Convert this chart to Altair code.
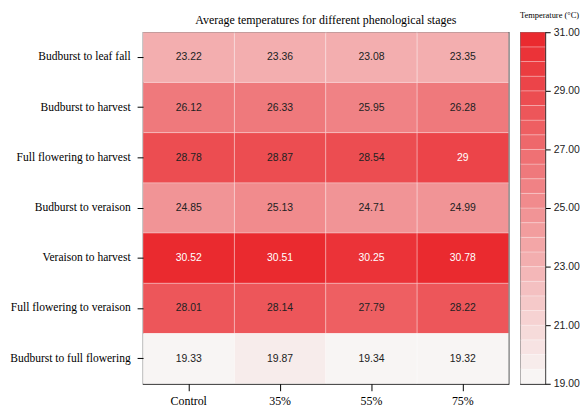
import altair as alt
import pandas as pd
import numpy as np

stages = [
    "Budburst to leaf fall",
    "Budburst to harvest",
    "Full flowering to harvest",
    "Budburst to veraison",
    "Veraison to harvest",
    "Full flowering to veraison",
    "Budburst to full flowering",
]
treatments = ["Control", "35%", "55%", "75%"]
values = [
    [23.22, 23.36, 23.08, 23.35],
    [26.12, 26.33, 25.95, 26.28],
    [28.78, 28.87, 28.54, 29],
    [24.85, 25.13, 24.71, 24.99],
    [30.52, 30.51, 30.25, 30.78],
    [28.01, 28.14, 27.79, 28.22],
    [19.33, 19.87, 19.34, 19.32],
]
scale_min, scale_max, step = 19.0, 31.0, 0.5
legend_ticks = [19, 21, 23, 25, 27, 29, 31]

# colours (style)
low = np.array([0xF8, 0xF5, 0xF4])
high = np.array([0xEA, 0x2A, 0x2F])
nbins = int((scale_max - scale_min) / step)
colors = ["#%02x%02x%02x" % tuple(int(round(c)) for c in low + (high - low) * i / (nbins - 1))
          for i in range(nbins)]

rows = []
for s, vals in zip(stages, values):
    for t, v in zip(treatments, vals):
        rows.append({"stage": s, "treatment": t, "value": v, "label": f"{v:g}"})
df = pd.DataFrame(rows)

levels = [scale_min + step * i for i in range(nbins)]
bar = pd.DataFrame({"lo": levels, "hi": [l + step for l in levels], "mid": [l + step / 2 for l in levels]})

color_scale = alt.Scale(type="quantize", domain=[scale_min, scale_max], range=colors, nice=False)

serif = "Liberation Serif"
sans = "Liberation Sans"

base = alt.Chart(df)
cells = base.mark_rect(stroke="white", strokeOpacity=0.3, strokeWidth=1).encode(
    x=alt.X("treatment:N", sort=treatments, title=None,
            axis=alt.Axis(labelAngle=0, labelFont=serif, labelFontSize=12, labelColor="black",
                          tickColor="black", tickSize=7, domain=False, labelPadding=5)),
    y=alt.Y("stage:N", sort=stages, title=None,
            axis=alt.Axis(labelFont=serif, labelFontSize=11.6, labelColor="black",
                          tickColor="black", tickSize=6, domain=False, labelPadding=7)),
    color=alt.Color("value:Q", scale=color_scale, legend=None),
)
texts = base.mark_text(font=sans, fontSize=10.5).encode(
    x=alt.X("treatment:N", sort=treatments),
    y=alt.Y("stage:N", sort=stages),
    text="label:N",
    color=alt.condition(alt.datum.value >= 29, alt.value("white"), alt.value("#222222")),
)
heat = alt.layer(cells, texts).properties(
    width=368, height=354,
    title=alt.TitleParams("Average temperatures for different phenological stages",
                          font=serif, fontSize=12, fontWeight="normal", color="black", offset=5),
)

cbar = alt.Chart(bar).mark_rect(stroke="white", strokeOpacity=0.25, strokeWidth=1).encode(
    y=alt.Y("lo:Q", scale=alt.Scale(domain=[scale_min, scale_max], nice=False, zero=False), title=None,
            axis=alt.Axis(orient="right", values=legend_ticks, format=".2f", labelFont=sans,
                          labelFontSize=10.5, labelColor="#222222", tickColor="black", tickSize=5,
                          domain=False, grid=False, labelPadding=3)),
    y2="hi:Q",
    color=alt.Color("mid:Q", scale=color_scale, legend=None),
).properties(
    width=25, height=354,
    title=alt.TitleParams("Temperature (°C)", font=serif, fontSize=8.5, fontWeight="normal",
                          color="black", anchor="start", offset=8),
)

chart = alt.hconcat(heat, cbar, spacing=8).properties(
    padding=0
).configure_view(stroke="black", strokeWidth=1.2).configure_title(fontWeight="normal")

chart.save("out.html", embed_options={"renderer": "svg", "actions": False})
